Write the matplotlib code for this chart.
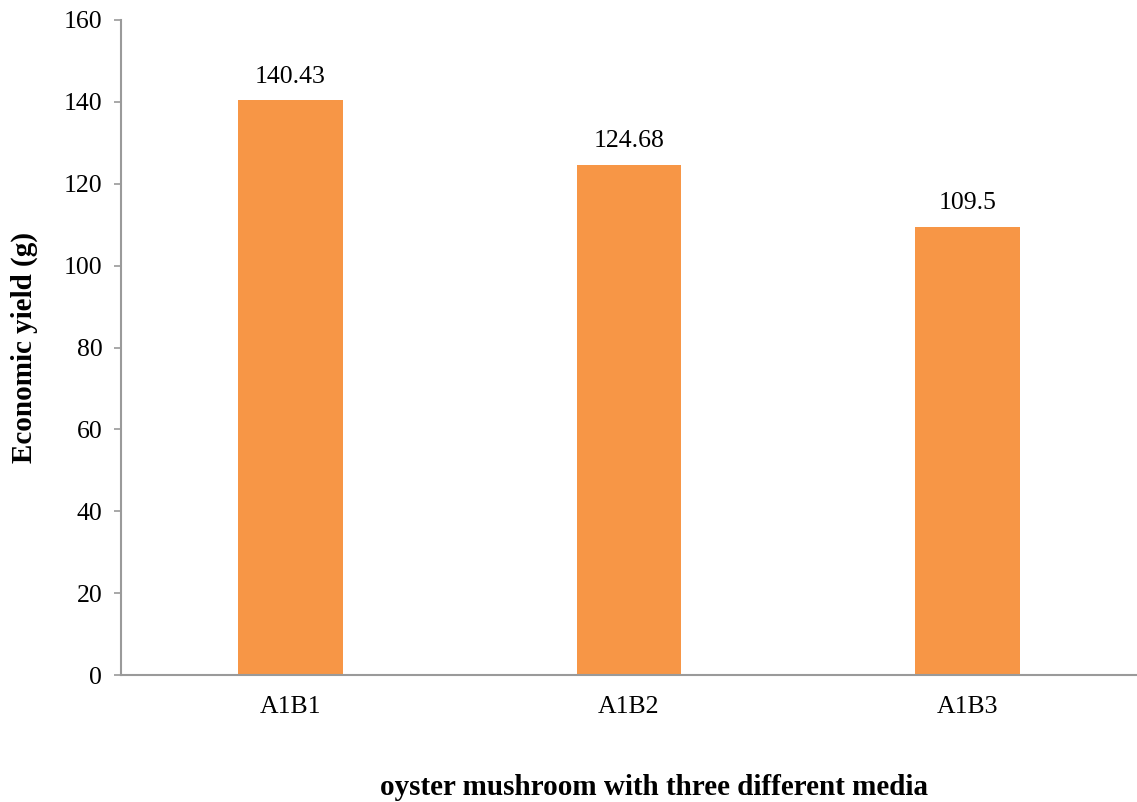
import matplotlib
matplotlib.use("Agg")
import matplotlib.pyplot as plt

categories = ["A1B1", "A1B2", "A1B3"]
yields = [140.43, 124.68, 109.5]
value_labels = ["140.43", "124.68", "109.5"]
y_ticks = [0, 20, 40, 60, 80, 100, 120, 140, 160]

plt.rcParams["font.family"] = ["Liberation Serif", "DejaVu Serif"]

fig = plt.figure(figsize=(11.37, 8.02), dpi=100)
ax = fig.add_axes([121 / 1137, 127 / 802, 1 - 121 / 1137, 655 / 802])

x = list(range(len(categories)))
bars = ax.bar(x, yields, width=0.31, color="#F79646", zorder=2)

for xi, v, lab in zip(x, yields, value_labels):
    ax.annotate(lab, (xi, v), xytext=(0, 9), textcoords="offset points",
                ha="center", va="bottom", fontsize=18.5)

ax.set_xlim(-0.5, len(categories) - 0.5)
ax.set_ylim(0, 160)
ax.set_yticks(y_ticks)
ax.set_xticks(x)
ax.set_xticklabels(categories)

for side in ("top", "right"):
    ax.spines[side].set_visible(False)
for side in ("left", "bottom"):
    ax.spines[side].set_color("#9a9a9a")
    ax.spines[side].set_linewidth(1.5)

ax.tick_params(axis="y", length=5, width=1.2, color="#9a9a9a", labelsize=18.5, pad=8.5)
ax.tick_params(axis="x", length=0, labelsize=18.5, pad=15)

ax.set_ylabel("Economic yield (g)", fontsize=21, fontweight="bold",
              ha="center", va="center")
ax.yaxis.set_label_coords(-0.0955, 0.5)
ax.set_xlabel("oyster mushroom with three different media", fontsize=21,
              fontweight="bold", ha="center", va="center")
ax.xaxis.set_label_coords(0.5246, -0.171)

fig.savefig("out.png", dpi=100)
